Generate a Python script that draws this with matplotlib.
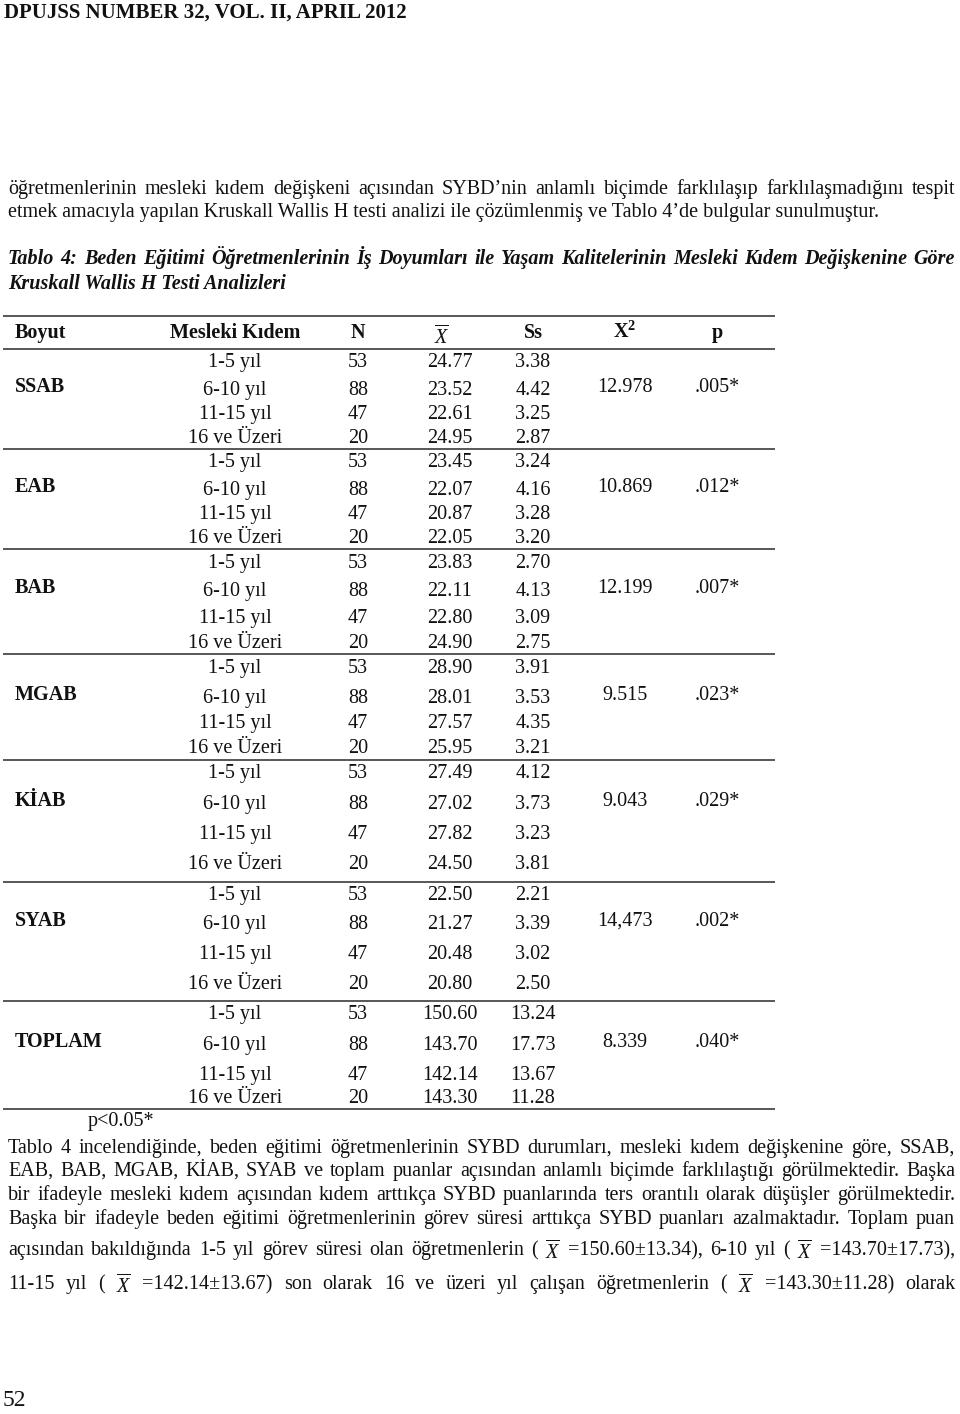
import matplotlib
matplotlib.use("Agg")
import matplotlib.pyplot as plt

plt.rcParams['font.family'] = ['Liberation Serif', 'DejaVu Serif']
plt.rcParams['mathtext.fontset'] = 'custom'
plt.rcParams['mathtext.rm'] = 'Liberation Serif'
plt.rcParams['mathtext.it'] = 'Liberation Serif:italic'
plt.rcParams['mathtext.bf'] = 'Liberation Serif:bold'

# --- tablo verileri ---
boyutlar = ['SSAB', 'EAB', 'BAB', 'MGAB', 'KİAB', 'SYAB', 'TOPLAM']
kidem = ['1-5 yıl', '6-10 yıl', '11-15 yıl', '16 ve Üzeri']
n_degerleri = [53, 88, 47, 20]
ortalama = [
    [24.77, 23.52, 22.61, 24.95],
    [23.45, 22.07, 20.87, 22.05],
    [23.83, 22.11, 22.80, 24.90],
    [28.90, 28.01, 27.57, 25.95],
    [27.49, 27.02, 27.82, 24.50],
    [22.50, 21.27, 20.48, 20.80],
    [150.60, 143.70, 142.14, 143.30],
]
ss = [
    [3.38, 4.42, 3.25, 2.87],
    [3.24, 4.16, 3.28, 3.20],
    [2.70, 4.13, 3.09, 2.75],
    [3.91, 3.53, 4.35, 3.21],
    [4.12, 3.73, 3.23, 3.81],
    [2.21, 3.39, 3.02, 2.50],
    [13.24, 17.73, 13.67, 11.28],
]
ki_kare = ['12.978', '10.869', '12.199', '9.515', '9.043', '14,473', '8.339']
p_degerleri = ['.005*', '.012*', '.007*', '.023*', '.029*', '.002*', '.040*']
basliklar = ['Boyut', 'Mesleki Kıdem', 'N', r'$\overline{X}$', 'Ss', r'$\mathbf{X}^\mathbf{2}$', 'p']

ust_bilgi = 'DPUJSS NUMBER 32, VOL. II, APRIL 2012'
paragraf1 = [
    'öğretmenlerinin mesleki kıdem değişkeni açısından SYBD’nin anlamlı biçimde farklılaşıp farklılaşmadığını tespit',
    'etmek amacıyla yapılan Kruskall Wallis H testi analizi ile çözümlenmiş ve Tablo 4’de bulgular sunulmuştur.',
]
tablo_adi = [
    'Tablo 4: Beden Eğitimi Öğretmenlerinin İş Doyumları ile Yaşam Kalitelerinin Mesleki Kıdem Değişkenine Göre',
    'Kruskall Wallis H Testi Analizleri',
]
dipnot = 'p<0.05*'
xbar = r'$\overline{X}$'
paragraf2 = [
    'Tablo 4 incelendiğinde, beden eğitimi öğretmenlerinin SYBD durumları, mesleki kıdem değişkenine göre, SSAB,'.split(),
    'EAB, BAB, MGAB, KİAB, SYAB ve toplam puanlar açısından anlamlı biçimde farklılaştığı görülmektedir. Başka'.split(),
    'bir ifadeyle mesleki kıdem açısından kıdem arttıkça SYBD puanlarında ters orantılı olarak düşüşler görülmektedir.'.split(),
    'Başka bir ifadeyle beden eğitimi öğretmenlerinin görev süresi arttıkça SYBD puanları azalmaktadır. Toplam puan'.split(),
    'açısından bakıldığında 1-5 yıl görev süresi olan öğretmenlerin ('.split()
    + [xbar, '=150.60±13.34),', '6-10', 'yıl', '(', xbar, '=143.70±17.73),'],
    ['11-15', 'yıl', '(', xbar, '=142.14±13.67)'] + 'son olarak 16 ve üzeri yıl çalışan öğretmenlerin ('.split()
    + [xbar, '=143.30±11.28)', 'olarak'],
]
sayfa_no = '52'

# --- sayfa düzeni (piksel) ---
fig = plt.figure(figsize=(9.6, 14.14), dpi=100)
ax = fig.add_axes([0, 0, 1, 1])
ax.set_xlim(0, 960)
ax.set_ylim(1414, 0)
ax.axis('off')
renderer = fig.canvas.get_renderer()
renk = '#111111'


def justify(words, y, x0, x1, size, **kw):
    # math (X-bar) tokens sit a bit high with baseline alignment, push them down
    arts = [ax.text(0, y + (4 if w.startswith('$') else 0), w, fontsize=size,
                    va='baseline', ha='left', color=renk, **kw)
            for w in words]
    widths = [a.get_window_extent(renderer).width for a in arts]
    gap = (x1 - x0 - sum(widths)) / (len(words) - 1)
    x = x0
    for a, w in zip(arts, widths):
        a.set_x(x)
        x += w + gap


fs = 14.5
ax.text(4, 18, ust_bilgi, fontsize=15, fontweight='bold', va='baseline', color=renk)

justify(paragraf1[0].split(), 194, 8, 955, fs)
ax.text(8, 217, paragraf1[1], fontsize=fs, va='baseline', color=renk)
justify(tablo_adi[0].split(), 264, 8, 955, fs, style='italic', fontweight='bold')
ax.text(8, 289, tablo_adi[1], fontsize=fs, va='baseline', style='italic',
        fontweight='bold', color=renk)

# tablo
x_boyut = 15
x_kol = [235, 358, 450, 533, 625, 717]
cizgiler = [316, 349, 449, 549, 654, 760, 882, 1001, 1109]
satir_ofset = [
    [12, 40, 64, 88],
    [12, 40, 64, 88],
    [13, 41, 68, 93],
    [13, 43, 68, 93],
    [12, 43, 73, 103],
    [12, 41, 71, 101],
    [12, 43, 73, 96],
]
for yc in cizgiler:
    ax.plot([3, 775], [yc, yc], color='#4a4a4a', lw=1.3, solid_capstyle='butt')

taban = 6
ax.text(x_boyut, 332 + taban, basliklar[0], fontsize=fs, fontweight='bold',
        va='baseline', color=renk)
for xk, b in zip([x_kol[0], x_kol[1], x_kol[3], x_kol[4], x_kol[5]],
                 [basliklar[1], basliklar[2], basliklar[4], basliklar[5], basliklar[6]]):
    ax.text(xk, 332 + taban, b, fontsize=fs, fontweight='bold', ha='center',
            va='baseline', color=renk)
ax.text(x_kol[2] - 8, 336 + taban + 2, basliklar[3], fontsize=fs, ha='center',
        va='baseline', color=renk)

for g, boyut in enumerate(boyutlar):
    ust = cizgiler[g + 1]
    ys = [ust + o for o in satir_ofset[g]]
    yb = ys[1] - 3 + taban
    ax.text(x_boyut, yb, boyut, fontsize=fs, fontweight='bold', va='baseline', color=renk)
    ax.text(x_kol[4], yb, ki_kare[g], fontsize=fs, ha='center', va='baseline', color=renk)
    ax.text(x_kol[5], yb, p_degerleri[g], fontsize=fs, ha='center', va='baseline', color=renk)
    for r in range(4):
        y = ys[r] + taban
        ax.text(x_kol[0], y, kidem[r], fontsize=fs, ha='center', va='baseline', color=renk)
        ax.text(x_kol[1], y, str(n_degerleri[r]), fontsize=fs, ha='center',
                va='baseline', color=renk)
        ax.text(x_kol[2], y, f'{ortalama[g][r]:.2f}', fontsize=fs, ha='center',
                va='baseline', color=renk)
        ax.text(x_kol[3], y, f'{ss[g][r]:.2f}', fontsize=fs, ha='center',
                va='baseline', color=renk)

ax.text(88, 1120 + taban, dipnot, fontsize=fs, va='baseline', color=renk)

for words, y in zip(paragraf2, [1147, 1170, 1194, 1218, 1249, 1283]):
    justify(words, y + taban, 8, 955, fs)

ax.text(3, 1406, sayfa_no, fontsize=17, va='baseline', color=renk)

fig.savefig('out.png', dpi=100)
